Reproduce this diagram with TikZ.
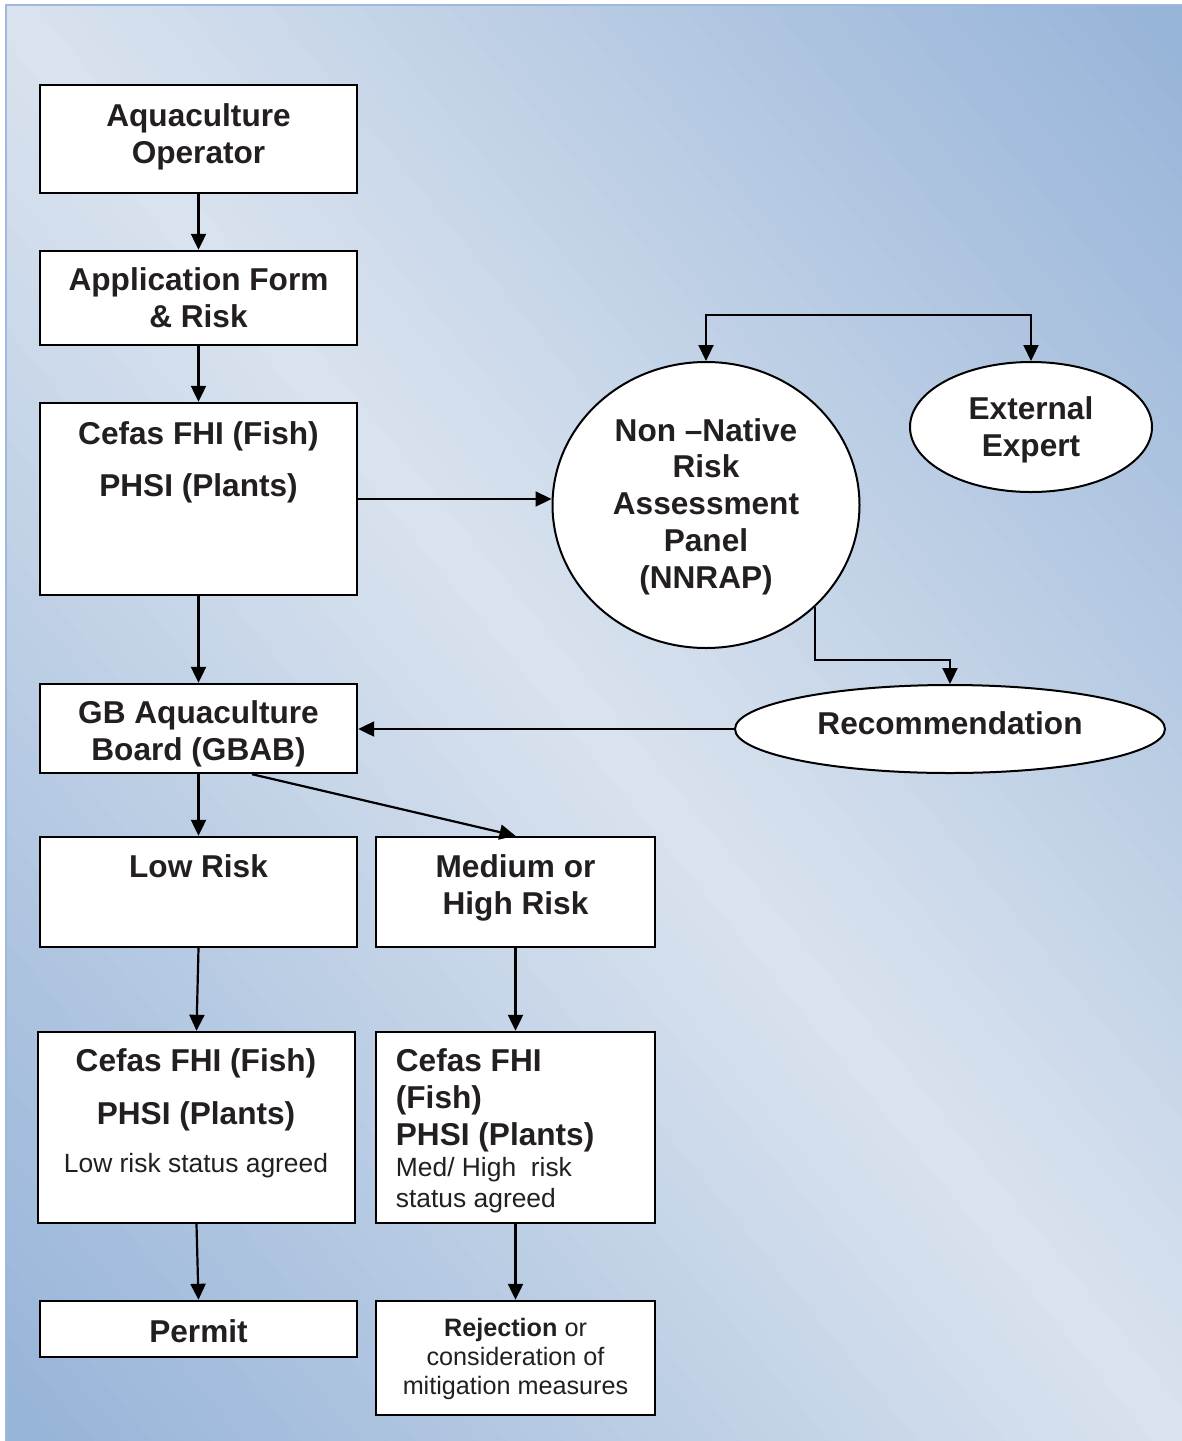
\documentclass[tikz,border=0pt]{standalone}
\usepackage{fontspec}
\setmainfont{Liberation Sans}
\usetikzlibrary{shapes.geometric,arrows.meta}
\definecolor{bgdark}{HTML}{95B3D7}
\definecolor{bglight}{HTML}{DAE3EF}
\definecolor{bgedge}{HTML}{9FB9DC}
\definecolor{txt}{HTML}{231F20}
\newcommand\smalltxt{\fontsize{13.2}{15.5}\selectfont\mdseries}
\begin{document}
\begin{tikzpicture}[x=0.5pt,y=-0.5pt,
  box/.style={draw=black, fill=white, line width=1.2pt, inner sep=0pt, rectangle},
  oval/.style={draw=black, fill=white, line width=1pt, inner sep=0pt, ellipse},
  bigt/.style={font=\fontsize{15.8}{18.5}\selectfont\bfseries, text=txt, align=center, inner sep=0pt},
  smt/.style={font=\fontsize{12.6}{14.5}\selectfont, text=txt, align=center, inner sep=0pt},
  conn/.style={line width=1.1pt, -{Triangle[length=8pt,width=7.5pt]}},
  twoway/.style={line width=1.1pt, {Triangle[length=8pt,width=7.5pt]}-{Triangle[length=8pt,width=7.5pt]}}]
\useasboundingbox (0,0) rectangle (1182,1441);
\fill[white] (0,0) rectangle (1182,1441);
% background gradient
\begin{scope}
\clip (6,5) rectangle (1182,1441);
\foreach \i in {0,...,79}{
  \pgfmathsetmacro\da{-910+\i*22.75}
  \pgfmathsetmacro\db{\da+25}
  \pgfmathsetmacro\m{min(100,abs(\da+11.375)/9.1)}
  \pgfmathsetmacro\xa{594+\da*0.7737-633.6}
  \pgfmathsetmacro\ya{723-\da*0.6336-773.7}
  \pgfmathsetmacro\xb{594+\da*0.7737+633.6}
  \pgfmathsetmacro\yb{723-\da*0.6336+773.7}
  \pgfmathsetmacro\xc{594+\db*0.7737+633.6}
  \pgfmathsetmacro\yc{723-\db*0.6336+773.7}
  \pgfmathsetmacro\xd{594+\db*0.7737-633.6}
  \pgfmathsetmacro\yd{723-\db*0.6336-773.7}
  \fill[bgdark!\m!bglight] (\xa,\ya) -- (\xb,\yb) -- (\xc,\yc) -- (\xd,\yd) -- cycle;
}
\end{scope}
\draw[bgedge, line width=1pt] (6,1441) -- (6,5) -- (1182,5);

% shapes
\node[box, minimum width=158.5pt, minimum height=54pt] (op) at (198.5,139) {};
\node[box, minimum width=158.5pt, minimum height=47pt] (app) at (198.5,298) {};
\node[box, minimum width=158.5pt, minimum height=96pt] (cef) at (198.5,499) {};
\node[box, minimum width=158.5pt, minimum height=44.5pt] (gbab) at (198.5,728.5) {};
\node[box, minimum width=158.5pt, minimum height=55pt] (low) at (198.5,892) {};
\node[box, minimum width=139.5pt, minimum height=55pt] (med) at (515.5,892) {};
\node[box, minimum width=158.5pt, minimum height=95.5pt] (cf2) at (196.5,1127.5) {};
\node[box, minimum width=139.5pt, minimum height=95.5pt] (mb) at (515.5,1127.5) {};
\node[box, minimum width=158.5pt, minimum height=28pt] (permit) at (198.5,1329) {};
\node[box, minimum width=139.5pt, minimum height=57pt] (rej) at (515.5,1358) {};
\node[oval, minimum width=153.5pt, minimum height=143pt] (nn) at (706,505) {};
\node[oval, minimum width=121pt, minimum height=65pt] (ee) at (1031,427) {};
\node[oval, minimum width=215pt, minimum height=44pt] (rec) at (950,729) {};

% texts
\node[bigt] (op-t) at (198.5,136.5) {Aquaculture\\Operator};
\node[bigt] (app-t) at (198.5,298) {Application Form\\\& Risk};
\node[bigt] (cef-t) at (198.5,462) {Cefas FHI (Fish)\\[7.5pt]PHSI (Plants)};
\node[bigt] (gbab-t) at (198.5,734) {GB Aquaculture\\Board (GBAB)};
\node[bigt, font=\fontsize{15.8}{18.4}\selectfont\bfseries] (nn-t) at (706,506.5) {Non –Native\\Risk\\Assessment\\Panel\\(NNRAP)};
\node[bigt] (ee-t) at (1031,430) {External\\Expert};
\node[bigt] (rec-t) at (950,723) {Recommendation};
\node[bigt] (low-t) at (198.5,866) {Low Risk};
\node[bigt] (med-t) at (515.5,887.5) {Medium or\\High Risk};
\node[bigt] (cf2-t) at (196,1113) {Cefas FHI (Fish)\\[8pt]PHSI (Plants)\\[5.6pt]{\smalltxt Low risk status agreed}};
\node[bigt, align=left, anchor=north west] (mb-t) at (395.5,1048.2) {Cefas FHI\\(Fish)\\PHSI (Plants)\\[-2.9pt]{\smalltxt Med/ High~~risk}\\[-3pt]{\smalltxt status agreed}};
\node[bigt] (permit-t) at (198.5,1331) {Permit};
\node[smt] (rej-t) at (515.5,1358.5) {\textbf{Rejection} or\\consideration of\\mitigation measures};

% connectors
\draw[conn] (op) -- (app);
\draw[conn] (app) -- (cef);
\draw[conn] (cef) -- (gbab);
\draw[conn] (cef.east) -- (cef.east -| nn.west);
\draw[twoway] (nn.north) -- ++(0,-46) -| (ee.north);
\draw[conn] (nn.-43) |- ([yshift=12pt]rec.north) -- (rec.north);
\draw[conn] (rec.west) -- (rec.west -| gbab.east);
\draw[conn] (gbab.south) -- (low.north);
\draw[conn] ([xshift=26.75pt]gbab.south) -- (med.north);
\draw[conn] (low.south) -- (cf2.north);
\draw[conn] (med) -- (mb);
\draw[conn] (cf2.south) -- (permit.north);
\draw[conn] (mb) -- (rej);
\end{tikzpicture}
\end{document}
